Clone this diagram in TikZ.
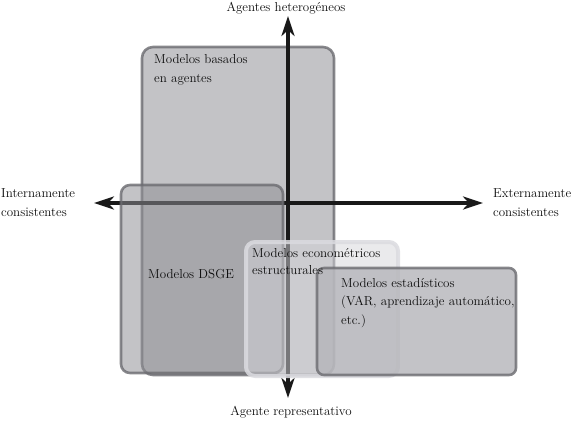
\documentclass[tikz,border=0pt]{standalone}
\usetikzlibrary{arrows.meta}
\definecolor{boxfill}{rgb}{0.56,0.56,0.58}
\definecolor{statfill}{rgb}{0.71,0.71,0.73}
\definecolor{boxline}{rgb}{0.42,0.42,0.44}
\definecolor{econfill}{rgb}{0.84,0.84,0.86}
\definecolor{econline}{rgb}{0.86,0.86,0.88}
\definecolor{txt}{rgb}{0.05,0.05,0.05}
\begin{document}
\begin{tikzpicture}[x=1pt,y=-1pt,
  every node/.style={font=\fontsize{13}{19}\selectfont, text=txt},
  modelbox/.style={draw=boxline, draw opacity=0.8, line width=2.6pt,
    fill=boxfill, fill opacity=0.53, rectangle, inner sep=0pt, outer sep=0pt},
  econbox/.style={draw=econline, draw opacity=0.85, line width=4pt,
    fill=econfill, fill opacity=0.5, rectangle, inner sep=0pt, outer sep=0pt,
    rounded corners=9pt},
  axis/.style={line width=3.4pt, color=black!90,
    {Stealth[length=20pt,width=13pt,inset=6pt]}-{Stealth[length=20pt,width=13pt,inset=6pt]}},
  lbl/.style={anchor=base west, align=left, inner sep=0pt}]
\useasboundingbox (0,0) rectangle (576,421);
\fill[white] (0,0) rectangle (576,421);
% agent-based box
\node[modelbox, rounded corners=11pt, minimum width=192pt, minimum height=328pt] (abm) at (238,211) {};
% axes
\coordinate (vt) at (288,16);
\coordinate (vb) at (288,398);
\coordinate (hl) at (94,203);
\coordinate (hr) at (483,203);
\draw[axis] (vb) -- (vt);
\draw[axis] (hl) -- (hr);
% DSGE box
\node[modelbox, rounded corners=9pt, minimum width=162pt, minimum height=188pt] (dsge) at (202,279) {};
% econometric box
\node[econbox, minimum width=152pt, minimum height=134pt] (econ) at (322,309) {};
% statistical box
\node[modelbox, fill=statfill, fill opacity=0.8, rounded corners=7pt, minimum width=199pt, minimum height=107pt] (stat) at (416.5,321.5) {};
% labels (base anchor = baseline of the last line)
\node[anchor=base, inner sep=0pt] (ltop) at (286,11) {Agentes heterogéneos};
\node[anchor=base, inner sep=0pt] (lbot) at (291,415) {Agente representativo};
\node[lbl] (lleft) at (1,216) {Internamente\\consistentes};
\node[lbl] (lright) at (493,216) {Externamente\\consistentes};
\node[lbl] (tabm) at (154,82) {Modelos basados\\en agentes};
\node[lbl] (tdsge) at (148,278) {Modelos DSGE};
\node[lbl, font=\fontsize{13}{17}\selectfont] (tecon) at (252,274) {Modelos econométricos\\estructurales};
\node[lbl, font=\fontsize{13}{18.5}\selectfont] (tstat) at (341,324) {Modelos estadísticos\\(VAR, aprendizaje automático,\\etc.)};
\end{tikzpicture}
\end{document}
